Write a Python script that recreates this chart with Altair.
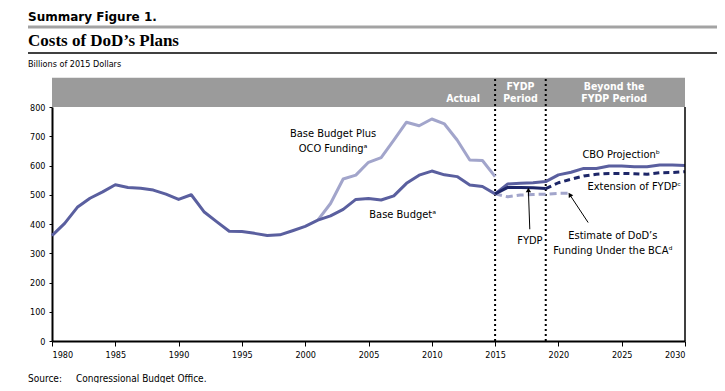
import altair as alt
import pandas as pd

# ---------------- data ----------------
hist_years = list(range(1980, 2016))
base_budget = [360, 402, 457, 488, 510, 534, 525, 522, 516, 502, 484, 500, 442, 408,
               375, 374, 368, 361, 363, 377, 392, 413, 428, 450, 484, 487, 482, 496,
               539, 567, 581, 568, 562, 533, 528, 503]
oco_years = list(range(2001, 2016))
base_plus_oco = [413, 470, 554, 567, 611, 627, 687, 748, 736, 759, 742, 687, 619, 617, 562]
cbo_years = list(range(2015, 2031))
cbo_projection = [503, 537, 539, 541, 545, 568, 577, 590, 590, 598, 598, 596, 596, 602, 602, 600]
fydp_years = list(range(2015, 2020))
fydp = [503, 525, 525, 524, 521]
ext_years = list(range(2019, 2031))
ext_fydp = [521, 541, 553, 564, 570, 573, 573, 572, 570, 575, 576, 579]
bca_years = list(range(2015, 2022))
bca_estimate = [503, 493, 499, 501, 502, 505, 505]
period_bounds = [2015, 2019]
x_ticks = [1980, 1985, 1990, 1995, 2000, 2005, 2010, 2015, 2020, 2025, 2030]
y_ticks = [0, 100, 200, 300, 400, 500, 600, 700, 800]

# ---------------- styling ----------------
FONT = "Liberation Sans Narrow, DejaVu Sans Condensed, Roboto Condensed, sans-serif"
C_BASE = "#5a5f9f"
C_LIGHT = "#a2a5cb"
C_DARK = "#1d2668"
C_HEAD = "#9b9b9b"

xs = alt.Scale(domain=[1980, 2030], nice=False, zero=False)
ys = alt.Scale(domain=[0, 800], nice=False)
x_axis = alt.Axis(values=x_ticks, format="d", title=None, grid=False,
                  domainColor="black", domainWidth=2, tickColor="black", tickSize=5,
                  tickWidth=1, labelFont=FONT, labelFontSize=9, labelColor="black",
                  labelPadding=4)
y_axis = alt.Axis(values=y_ticks, title=None, grid=False,
                  domainColor="black", domainWidth=2, tickColor="black", tickSize=3,
                  labelFont=FONT, labelFontSize=9, labelColor="black", labelPadding=4)


def X(f):
    return alt.X(f, type="quantitative", scale=xs, axis=x_axis)


def Y(f):
    return alt.Y(f, type="quantitative", scale=ys, axis=y_axis)


def series(years, vals):
    return pd.DataFrame({"year": years, "value": vals})


# header band (800-900 above the plot)
band = alt.Chart(pd.DataFrame({"a": [1980], "b": [2030], "lo": [800], "hi": [900]})).mark_rect(
    color=C_HEAD).encode(x=X("a"), x2="b", y=Y("lo"), y2="hi")

dots = alt.Chart(pd.DataFrame({"year": period_bounds, "lo": [0, 0], "hi": [900, 900]})).mark_rule(
    color="black", strokeWidth=2, strokeDash=[2, 3]).encode(x=X("year"), y=Y("lo"), y2="hi")

right_edge = alt.Chart(pd.DataFrame({"year": [2030], "lo": [0], "hi": [800]})).mark_rule(
    color="black", strokeWidth=1.5).encode(x=X("year"), y=Y("lo"), y2="hi")


def line(years, vals, color, dash=None, width=3):
    kw = dict(color=color, strokeWidth=width, strokeCap="butt", strokeJoin="round")
    if dash:
        kw["strokeDash"] = dash
    return alt.Chart(series(years, vals)).mark_line(**kw).encode(x=X("year"), y=Y("value"))


l_oco = line(oco_years, base_plus_oco, C_LIGHT)
l_base = line(hist_years, base_budget, C_BASE)
l_bca = line(bca_years, bca_estimate, C_LIGHT, dash=[7, 4])
l_cbo = line(cbo_years, cbo_projection, C_BASE)
l_fydp = line(fydp_years, fydp, C_DARK)
l_ext = line(ext_years, ext_fydp, C_DARK, dash=[6, 4])

# arrows (tail -> tip, in data units)
arrows = pd.DataFrame({"x0": [2017.74, 2022.35], "y0": [382, 405],
                       "x1": [2017.63, 2020.9], "y1": [516, 500],
                       "ang": [0, 327]})
arrow_shafts = alt.Chart(arrows).mark_rule(color="black", strokeWidth=1).encode(
    x=X("x0"), y=Y("y0"), x2="x1", y2="y1")
arrow_heads = alt.Chart(arrows).mark_point(shape="triangle-up", filled=True, color="black",
                                           size=28, opacity=1).encode(
    x=X("x1"), y=Y("y1"), angle=alt.Angle("ang:Q", scale=None))

# annotation labels
ann_c = pd.DataFrame({
    "x": [2002.2, 2002.2, 2007.7, 2017.75, 2024.3, 2024.3],
    "y": [698, 647, 422, 331, 348, 297],
    "t": ["Base Budget Plus", "OCO Fundingᵃ", "Base Budgetᵃ", "FYDP",
          "Estimate of DoD’s", "Funding Under the BCAᵈ"],
})
ann_l = pd.DataFrame({
    "x": [2021.9, 2022.3],
    "y": [625, 516],
    "t": ["CBO Projectionᵇ", "Extension of FYDPᶜ"],
})


def texts(df, align, size=11, **kw):
    return alt.Chart(df).mark_text(font=FONT, fontSize=size, baseline="alphabetic",
                                   align=align, **kw).encode(
        x=X("x"), y=Y("y"), text="t:N")


ann_text_c = texts(ann_c, "center", color="black")
ann_text_l = texts(ann_l, "left", color="black")

head_r = pd.DataFrame({"x": [2013.8], "y": [816], "t": ["Actual"]})
head_c = pd.DataFrame({
    "x": [2017.0, 2017.0, 2024.4, 2024.4],
    "y": [857, 816, 857, 816],
    "t": ["FYDP", "Period", "Beyond the", "FYDP Period"],
})
head_text_r = texts(head_r, "right", size=10.5, color="white", fontWeight="bold")
head_text_c = texts(head_c, "center", size=10.5, color="white", fontWeight="bold")

# figure titles / source (page decoration, placed relative to the plot frame)
summary = alt.Chart(pd.DataFrame({"t": ["Summary Figure 1."]})).mark_text(
    font="DejaVu Sans", fontWeight="bold", fontSize=12, align="left", baseline="alphabetic",
    color="black").encode(x=alt.value(-24), y=alt.value(-86), text="t:N")
title = alt.Chart(pd.DataFrame({"t": ["Costs of DoD’s Plans"]})).mark_text(
    font="Liberation Serif", fontWeight="bold", fontSize=17, align="left", baseline="alphabetic",
    color="black").encode(x=alt.value(-24), y=alt.value(-61), text="t:N")
units = alt.Chart(pd.DataFrame({"t": ["Billions of 2015 Dollars"]})).mark_text(
    font=FONT, fontSize=9, align="left", baseline="alphabetic", color="black").encode(
    x=alt.value(-24), y=alt.value(-40), text="t:N")
gray_rule = alt.Chart(pd.DataFrame({"k": [0]})).mark_rule(color="#a3a3a3", strokeWidth=3).encode(
    x=alt.value(-24), x2=alt.value(670), y=alt.value(-80))
black_rule = alt.Chart(pd.DataFrame({"k": [0]})).mark_rule(color="black", strokeWidth=1.5).encode(
    x=alt.value(-24), x2=alt.value(670), y=alt.value(-54))
src1 = alt.Chart(pd.DataFrame({"t": ["Source:"]})).mark_text(
    font=FONT, fontSize=10, align="left", baseline="alphabetic", color="black").encode(
    x=alt.value(-24), y=alt.value(275), text="t:N")
src2 = alt.Chart(pd.DataFrame({"t": ["Congressional Budget Office."]})).mark_text(
    font=FONT, fontSize=10, align="left", baseline="alphabetic", color="black").encode(
    x=alt.value(24), y=alt.value(275), text="t:N")

chart = alt.layer(
    band, dots, l_oco, l_base, l_bca, l_cbo, l_fydp, l_ext, right_edge,
    arrow_shafts, arrow_heads, ann_text_c, ann_text_l, head_text_r, head_text_c,
    summary, title, units, gray_rule, black_rule, src1, src2,
).properties(
    width=633, height=234,
    autosize=alt.AutoSizeParams(type="none"),
    padding={"left": 44, "top": 99, "right": 32, "bottom": 42},
).configure_view(stroke=None)

chart.save("out.html", embed_options={"renderer": "svg", "actions": False})
